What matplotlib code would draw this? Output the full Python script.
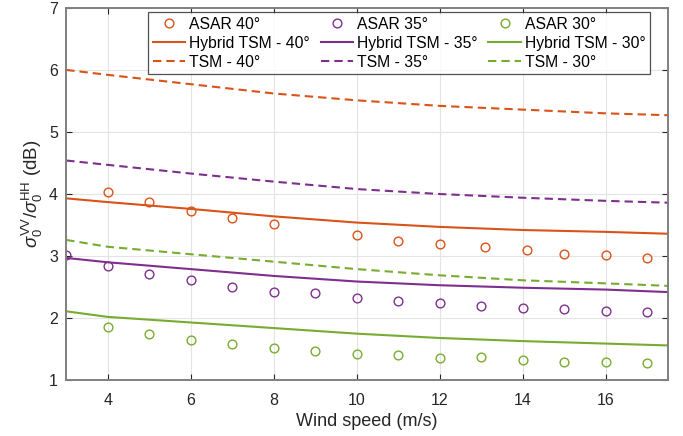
import matplotlib.pyplot as plt
import numpy as np

plt.rcParams['font.family'] = ['Liberation Sans', 'DejaVu Sans']
plt.rcParams['mathtext.fontset'] = 'custom'
plt.rcParams['mathtext.rm'] = 'Liberation Sans'
plt.rcParams['mathtext.it'] = 'Liberation Sans:italic'

# ASAR observations (wind speed, ratio in dB)
x_asar40 = [4, 5, 6, 7, 8, 10, 11, 12, 13.1, 14.1, 15, 16, 17]
y_asar40 = [4.03, 3.87, 3.73, 3.61, 3.52, 3.34, 3.25, 3.19, 3.15, 3.10, 3.04, 3.02, 2.97]
x_asar35 = [3, 4, 5, 6, 7, 8, 9, 10, 11, 12, 13, 14, 15, 16, 17]
y_asar35 = [3.01, 2.84, 2.71, 2.61, 2.50, 2.42, 2.40, 2.33, 2.27, 2.24, 2.20, 2.17, 2.15, 2.11, 2.10]
x_asar30 = [4, 5, 6, 7, 8, 9, 10, 11, 12, 13, 14, 15, 16, 17]
y_asar30 = [1.86, 1.74, 1.65, 1.58, 1.52, 1.47, 1.43, 1.40, 1.35, 1.37, 1.33, 1.30, 1.30, 1.28]

# model curves
x_mod = [3, 4, 6, 8, 10, 12, 14, 16, 17.5]
hyb40 = [3.93, 3.87, 3.76, 3.64, 3.54, 3.47, 3.42, 3.39, 3.36]
hyb35 = [2.97, 2.90, 2.79, 2.68, 2.59, 2.53, 2.49, 2.46, 2.42]
hyb30 = [2.11, 2.02, 1.93, 1.84, 1.75, 1.68, 1.63, 1.59, 1.56]
tsm40 = [6.00, 5.92, 5.77, 5.62, 5.51, 5.42, 5.36, 5.30, 5.27]
tsm35 = [4.54, 4.47, 4.33, 4.20, 4.08, 4.00, 3.94, 3.89, 3.86]
tsm30 = [3.26, 3.15, 3.03, 2.91, 2.79, 2.69, 2.61, 2.56, 2.52]

c40, c35, c30 = '#D95319', '#7E2F8E', '#77AC30'

fig = plt.figure(figsize=(6.83, 4.36), dpi=100)
ax = fig.add_axes([0.097, 0.128, 0.881, 0.854])

h = []
for xa, ya, hy, ts, c, ang in [(x_asar40, y_asar40, hyb40, tsm40, c40, 40),
                                (x_asar35, y_asar35, hyb35, tsm35, c35, 35),
                                (x_asar30, y_asar30, hyb30, tsm30, c30, 30)]:
    p1, = ax.plot(xa, ya, 'o', mfc='none', mec=c, ms=6.3, mew=1, label=f'ASAR {ang}°')
    p2, = ax.plot(x_mod, hy, '-', color=c, lw=1.5, label=f'Hybrid TSM - {ang}°')
    p3, = ax.plot(x_mod, ts, '--', color=c, lw=1.5, dashes=(4, 2.4), label=f'TSM - {ang}°')
    h += [p1, p2, p3]

ax.set_xlim(3, 17.5)
ax.set_ylim(1, 7)
ax.set_xticks([4, 6, 8, 10, 12, 14, 16])
ax.set_yticks([1, 2, 3, 4, 5, 6, 7])
ax.grid(True, color='#e3e3e3', lw=0.8)
ax.set_axisbelow(True)
ax.tick_params(direction='in', top=True, right=True, labelsize=11.5,
               colors='#262626', length=4, width=0.8)
ax.tick_params(axis='x', pad=9)
ax.tick_params(axis='y', pad=6)
for s in ax.spines.values():
    s.set_color('#808080')
    s.set_linewidth(1.4)
ax.set_xlabel('Wind speed (m/s)', fontsize=13, color='#262626', labelpad=4)
ax.set_ylabel(r'$\sigma_0^{\mathrm{VV}}/\sigma_0^{\mathrm{HH}}$ (dB)', fontsize=13.5,
              color='#262626', labelpad=3)

leg = ax.legend(handles=h, ncol=3, loc='upper right',
                bbox_to_anchor=(650 / 683, 1 - 12 / 436), bbox_transform=fig.transFigure,
                fontsize=11.3, frameon=True, fancybox=False, edgecolor='#262626',
                borderpad=0.3, labelspacing=0.25, handlelength=2.05, handletextpad=0.25,
                columnspacing=0.7, borderaxespad=0)
leg.get_frame().set_linewidth(0.9)

fig.savefig('out.png', dpi=100)
